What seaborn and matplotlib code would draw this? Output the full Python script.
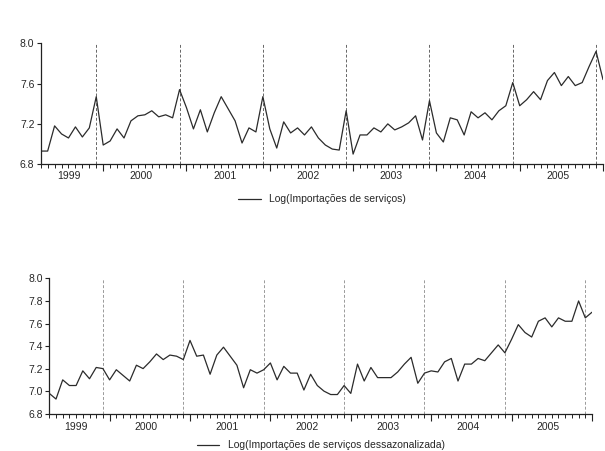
import matplotlib
matplotlib.use("Agg")
import matplotlib.pyplot as plt
import matplotlib.transforms as mtransforms
import seaborn as sns
import numpy as np
import pandas as pd

# meses de abr/1999 a jan/2006 (82 observações)
years = ["1999", "2000", "2001", "2002", "2003", "2004", "2005"]
first_month = 3  # abril (0 = janeiro)

log_imp = [6.93, 6.93, 7.18, 7.10, 7.06, 7.17, 7.07, 7.16, 7.47,
           6.99, 7.03, 7.15, 7.06, 7.23, 7.28, 7.29, 7.33, 7.27, 7.29, 7.26, 7.54,
           7.36, 7.15, 7.34, 7.12, 7.31, 7.47, 7.35, 7.23, 7.01, 7.16, 7.12, 7.47,
           7.15, 6.96, 7.22, 7.11, 7.16, 7.09, 7.17, 7.06, 6.99, 6.95, 6.94, 7.33,
           6.90, 7.09, 7.09, 7.16, 7.12, 7.20, 7.14, 7.17, 7.21, 7.28, 7.04, 7.43,
           7.11, 7.02, 7.26, 7.24, 7.09, 7.32, 7.26, 7.31, 7.24, 7.33, 7.38, 7.61,
           7.38, 7.44, 7.52, 7.44, 7.63, 7.71, 7.58, 7.67, 7.58, 7.61, 7.77, 7.92,
           7.64]

log_imp_sa = [6.98, 6.93, 7.10, 7.05, 7.05, 7.18, 7.11, 7.21, 7.20,
              7.10, 7.19, 7.14, 7.09, 7.23, 7.20, 7.26, 7.33, 7.28, 7.32, 7.31, 7.28,
              7.45, 7.31, 7.32, 7.15, 7.32, 7.39, 7.31, 7.23, 7.03, 7.19, 7.16, 7.19,
              7.25, 7.10, 7.22, 7.16, 7.16, 7.01, 7.15, 7.05, 7.00, 6.97, 6.97, 7.05,
              6.98, 7.24, 7.09, 7.21, 7.12, 7.12, 7.12, 7.17, 7.24, 7.30, 7.07, 7.16,
              7.18, 7.17, 7.26, 7.29, 7.09, 7.24, 7.24, 7.29, 7.27, 7.34, 7.41, 7.34,
              7.46, 7.59, 7.52, 7.48, 7.62, 7.65, 7.57, 7.65, 7.62, 7.62, 7.80, 7.65,
              7.70]

label_top = "Log(Importações de serviços)"
label_bot = "Log(Importações de serviços dessazonalizada)"

sns.set_style("ticks")
plt.rcParams["font.family"] = ["Liberation Sans", "DejaVu Sans"]
plt.rcParams["font.size"] = 7.5

fig = plt.figure(figsize=(6.05, 4.51), dpi=100)
ax1 = fig.add_axes([0.0673, 0.636, 0.9294, 0.268])
ax2 = fig.add_axes([0.0815, 0.0827, 0.897, 0.300])


def draw(ax, values, label, yticks, vcolor, leg_y):
    t = np.arange(len(values))
    df = pd.DataFrame({"t": t, "v": values})
    sns.lineplot(data=df, x="t", y="v", ax=ax, color="#2b2b2b", linewidth=0.9, label=label)
    ax.set_xlim(0, len(values) - 1)
    ax.set_ylim(yticks[0], yticks[-1])
    ax.set_yticks(yticks)
    ax.set_yticklabels([f"{y:.1f}" for y in yticks])
    ax.set_xlabel("")
    ax.set_ylabel("")
    sns.despine(ax=ax)
    for s in ["left", "bottom"]:
        ax.spines[s].set_linewidth(0.9)
        ax.spines[s].set_color("#222222")

    # dezembros: linhas tracejadas
    months = (t + first_month) % 12
    for d in t[months == 11]:
        ax.axvline(d, color=vcolor, linestyle=(0, (3, 2)), linewidth=0.7, zorder=0)

    jan = t[months == 0]
    ax.set_xticks(jan)
    ax.set_xticklabels([])
    ax.set_xticks(t, minor=True)
    ax.tick_params(axis="x", which="major", length=5, width=0.8, color="#222222")
    ax.tick_params(axis="x", which="minor", length=3, width=0.7, color="#222222")
    ax.tick_params(axis="y", length=3, width=0.8, color="#222222", pad=1.5)

    # rótulos dos anos no centro de cada ano visível
    trans = mtransforms.blended_transform_factory(ax.transData, ax.transAxes)
    starts = np.concatenate([[0], jan])
    ends = np.concatenate([jan - 1, [t[-1]]])
    for yr, a, b in zip(years, starts, ends):
        ax.text((a + b) / 2, -0.06, yr, transform=trans, ha="center", va="top", fontsize=7.5)

    ax.legend(loc="center", bbox_to_anchor=(0.5, leg_y), frameon=False,
              handlelength=2.2, fontsize=7.5)


draw(ax1, log_imp, label_top, [6.8, 7.2, 7.6, 8.0], "#666666", -0.29)
draw(ax2, log_imp_sa, label_bot, [6.8, 7.0, 7.2, 7.4, 7.6, 7.8, 8.0], "#9a9a9a", -0.235)

fig.savefig("out.png", dpi=100)
